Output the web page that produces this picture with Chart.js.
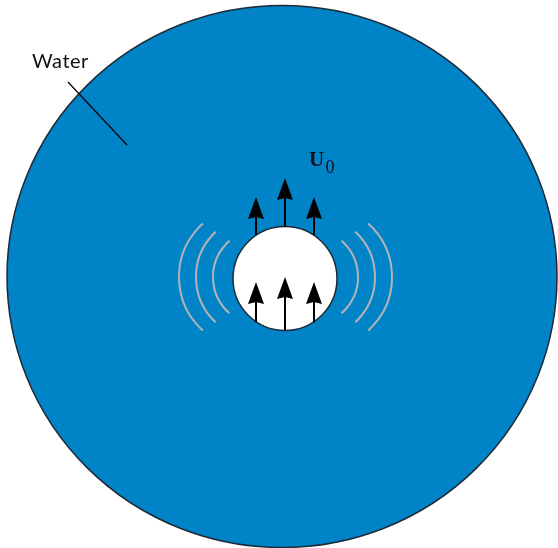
<!DOCTYPE html>
<html>
<head>
<meta charset="utf-8">
<script src="https://cdn.jsdelivr.net/npm/chart.js@4/dist/chart.umd.min.js"></script>
<style>
  html, body { margin: 0; padding: 0; background: #ffffff; }
  #wrap { width: 558px; height: 548px; position: relative; }
</style>
</head>
<body>
<div id="wrap"><canvas id="c"></canvas></div>
<script>
// ---- data (diagram coordinates, y downward) ----
const waterCircle = [282, 276.5, 275, 271];      // cx, cy, rx, ry
const particleCircle = [285, 278.5, 52];          // cx, cy, r
const arrowX = [256, 285, 314];
const upperArrowBase = [235, 227, 235];
const upperArrowTip = [197, 178, 197];
const lowerArrowBase = [322, 330, 322];
const lowerArrowTip = [282, 277, 282];
const waveRadii = [48, 62, 72];
const waveLeftCenterX = [261, 258, 251];
const waveRightCenterX = [310, 313, 320];
const waveCenterY = [277, 277, 277];
const waveHalfAngleDeg = [49, 47, 48];
const labelTexts = ['Water', 'U', '0'];
const labelX = [32, 309, 325.5];
const labelY = [67.5, 166, 173];
const leaderLine = [68, 82, 127, 145];            // x1, y1, x2, y2

const headLen = 22, headHalfWidth = 8;

// arrow shafts as line datasets
const datasets = [];
for (let i = 0; i < arrowX.length; i++) {
  datasets.push({
    data: [{x: arrowX[i], y: upperArrowBase[i]}, {x: arrowX[i], y: upperArrowTip[i] + 6}],
    borderColor: '#000', borderWidth: 2, pointRadius: 0, showLine: true, fill: false
  });
  datasets.push({
    data: [{x: arrowX[i], y: lowerArrowBase[i]}, {x: arrowX[i], y: lowerArrowTip[i] + 6}],
    borderColor: '#000', borderWidth: 2, pointRadius: 0, showLine: true, fill: false
  });
}
// leader line
datasets.push({
  data: [{x: leaderLine[0], y: leaderLine[1]}, {x: leaderLine[2], y: leaderLine[3]}],
  borderColor: '#000', borderWidth: 1.2, pointRadius: 0, showLine: true, fill: false
});

function px(chart, v) { return chart.scales.x.getPixelForValue(v); }
function py(chart, v) { return chart.scales.y.getPixelForValue(v); }
function dx(chart, d) { return Math.abs(px(chart, d) - px(chart, 0)); }
function dy(chart, d) { return Math.abs(py(chart, d) - py(chart, 0)); }

const diagramPlugin = {
  id: 'diagram',
  beforeDatasetsDraw(chart) {
    const ctx = chart.ctx;
    ctx.save();
    // water domain
    ctx.beginPath();
    ctx.ellipse(px(chart, waterCircle[0]), py(chart, waterCircle[1]),
                dx(chart, waterCircle[2]), dy(chart, waterCircle[3]), 0, 0, Math.PI * 2);
    ctx.fillStyle = '#0084c7';
    ctx.fill();
    ctx.lineWidth = 1.5;
    ctx.strokeStyle = '#1b2a38';
    ctx.stroke();
    // waves
    ctx.strokeStyle = '#b4b4b4';
    ctx.lineWidth = 2;
    for (let i = 0; i < waveRadii.length; i++) {
      const a = waveHalfAngleDeg[i] * Math.PI / 180;
      const rx = dx(chart, waveRadii[i]), ry = dy(chart, waveRadii[i]);
      ctx.beginPath();
      ctx.ellipse(px(chart, waveLeftCenterX[i]), py(chart, waveCenterY[i]), rx, ry, 0, Math.PI - a, Math.PI + a);
      ctx.stroke();
      ctx.beginPath();
      ctx.ellipse(px(chart, waveRightCenterX[i]), py(chart, waveCenterY[i]), rx, ry, 0, -a, a);
      ctx.stroke();
    }
    // particle
    ctx.beginPath();
    ctx.ellipse(px(chart, particleCircle[0]), py(chart, particleCircle[1]),
                dx(chart, particleCircle[2]), dy(chart, particleCircle[2]), 0, 0, Math.PI * 2);
    ctx.fillStyle = '#ffffff';
    ctx.fill();
    ctx.lineWidth = 1.5;
    ctx.strokeStyle = '#1b2a38';
    ctx.stroke();
    ctx.restore();
  },
  afterDatasetsDraw(chart) {
    const ctx = chart.ctx;
    ctx.save();
    ctx.fillStyle = '#000';
    const tips = upperArrowTip.concat(lowerArrowTip);
    const xs = arrowX.concat(arrowX);
    for (let i = 0; i < tips.length; i++) {
      const x = px(chart, xs[i]), y = py(chart, tips[i]);
      const hl = dy(chart, headLen), hw = dx(chart, headHalfWidth);
      ctx.beginPath();
      ctx.moveTo(x, y);
      ctx.lineTo(x + hw, y + hl);
      ctx.lineTo(x, y + hl - 2);
      ctx.lineTo(x - hw, y + hl);
      ctx.closePath();
      ctx.fill();
    }
    // labels
    ctx.textBaseline = 'alphabetic';
    ctx.textAlign = 'left';
    ctx.fillStyle = '#111';
    ctx.font = '20px Lato, "Open Sans", sans-serif';
    try { ctx.letterSpacing = '0.5px'; } catch (e) {}
    ctx.fillText(labelTexts[0], px(chart, labelX[0]), py(chart, labelY[0]));
    try { ctx.letterSpacing = '0px'; } catch (e) {}
    ctx.font = 'bold 21px "Liberation Serif", "DejaVu Serif", serif';
    ctx.fillText(labelTexts[1], px(chart, labelX[1]), py(chart, labelY[1]));
    ctx.font = '18px "Liberation Serif", "DejaVu Serif", serif';
    ctx.fillText(labelTexts[2], px(chart, labelX[2]), py(chart, labelY[2]));
    ctx.restore();
  }
};

new Chart(document.getElementById('c'), {
  type: 'scatter',
  data: { datasets },
  options: {
    responsive: true,
    maintainAspectRatio: false,
    animation: false,
    layout: { padding: 0 },
    plugins: { legend: { display: false }, tooltip: { enabled: false } },
    scales: {
      x: { type: 'linear', min: 0, max: 558, display: false },
      y: { type: 'linear', min: 0, max: 548, reverse: true, display: false }
    }
  },
  plugins: [diagramPlugin]
});
</script>
</body>
</html>
